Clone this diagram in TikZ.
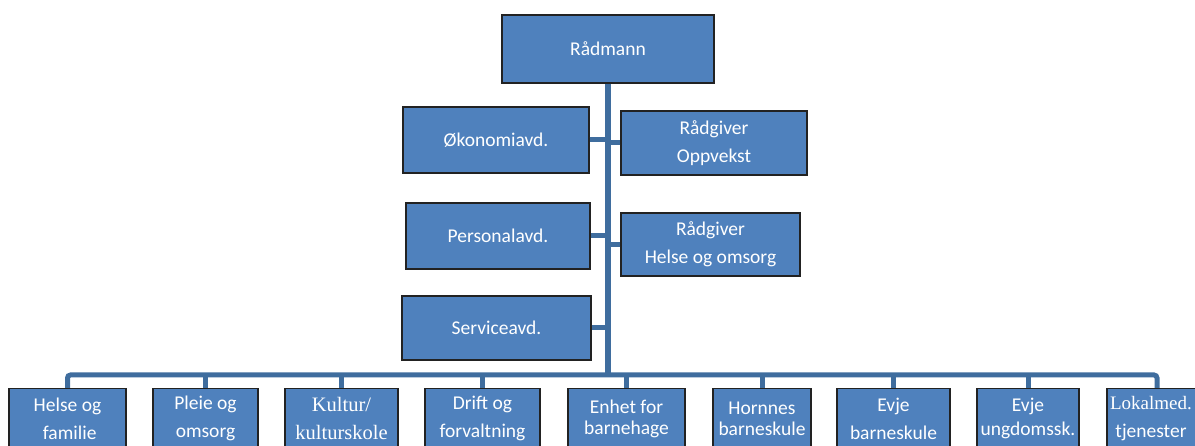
\documentclass[tikz,border=0pt]{standalone}
\usepackage{fontspec}
\setmainfont{Carlito}
\newfontfamily\serifface{Liberation Serif}
\definecolor{boxblue}{HTML}{4F81BD}
\definecolor{linkblue}{HTML}{3F6D9E}
\definecolor{boxedge}{HTML}{222222}
\begin{document}
\begin{tikzpicture}[x=1pt,y=-1pt,
  box/.style={rectangle, draw=boxedge, line width=1.1pt, fill=boxblue, text=white,
    align=center, inner sep=0pt, font=\fontsize{19.5}{28}\selectfont},
  tight/.style={font=\fontsize{19.5}{21}\selectfont},
  serifbox/.style={font=\serifface\fontsize{20.5}{28}\selectfont},
  link/.style={draw=linkblue, line width=5pt},
  trunk/.style={draw=linkblue, line width=6.5pt}]
\useasboundingbox (0,0) rectangle (1195,446);

% top level
\node[box, minimum width=212pt, minimum height=68pt] (rad) at (608,49) {Rådmann};
\node[box, minimum width=186pt, minimum height=66pt] (oko) at (496,140) {Økonomiavd.};
\node[box, minimum width=186pt, minimum height=64pt] (rgo) at (714,143) {Rådgiver\\Oppvekst};
\node[box, minimum width=184pt, minimum height=66pt] (per) at (498,236) {Personalavd.};
\node[box, minimum width=179pt, minimum height=63pt] (rgh) at (710.5,244.5) {Rådgiver\\Helse og omsorg};
\node[box, minimum width=189pt, minimum height=64pt] (ser) at (496.5,328) {Serviceavd.};

% bottom units
\tikzset{unit/.style={box, minimum height=60pt, anchor=north}}
\node[unit, minimum width=117pt] (u1) at (67.5,388) {Helse og\\\ familie};
\node[unit, minimum width=105pt] (u2) at (205.5,388) {Pleie og\\omsorg};
\node[unit, minimum width=113pt, serifbox] (u3) at (341.5,388) {Kultur/\\kulturskole};
\node[unit, minimum width=115pt] (u4) at (482.5,388) {Drift og\\forvaltning};
\node[unit, minimum width=117pt, tight] (u5) at (626.5,388) {Enhet for\\barnehage};
\node[unit, minimum width=98pt, tight] (u6) at (762,388) {Hornnes\\barneskule};
\node[unit, minimum width=113pt] (u7) at (893.5,388) {Evje\\barneskule};
\node[unit, minimum width=102pt, font=\fontsize{19.5}{24}\selectfont] (u8) at (1028,388) {Evje\\ungdomssk.};
\node[unit, minimum width=100pt] (u9) at (1157,388) {{\serifface\fontsize{19}{28}\selectfont Lokalmed.}\hspace*{12pt}\\tjenester\hspace*{12pt}};

\coordinate (j) at (608,375);

% connectors
\draw[trunk] (rad.south) -- (rad.south |- j);
\draw[link] (oko.east) -- (oko.east -| rad.south);
\draw[link] (rgo.west) -- (rgo.west -| rad.south);
\draw[link] (per.east) -- (per.east -| rad.south);
\draw[link] (rgh.west) -- (rgh.west -| rad.south);
\draw[link] (ser.east) -- (ser.east -| rad.south);
\draw[link, rounded corners=3pt] (u1.north) -- (u1.north |- j) -- (u9.north |- j) -- (u9.north);
\foreach \u in {u2,u3,u4,u5,u6,u7,u8}{
  \draw[link] (\u.north) -- (\u.north |- j);
}
\end{tikzpicture}
\end{document}
